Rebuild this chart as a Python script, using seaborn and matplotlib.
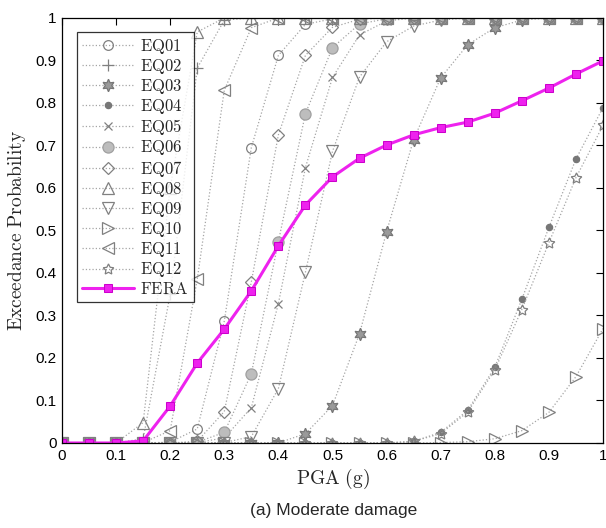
import numpy as np
import pandas as pd
import matplotlib
matplotlib.use("Agg")
import matplotlib.pyplot as plt
import seaborn as sns
from matplotlib.ticker import FixedLocator, FixedFormatter

pga = [round(0.05 * i, 2) for i in range(21)]

eq01 = [0, 0, 0, 0, 0.002, 0.033, 0.287, 0.695, 0.912, 0.985, 0.998, 1, 1, 1, 1, 1, 1, 1, 1, 1, 1]
eq02 = [0, 0, 0, 0.01, 0.35, 0.882, 0.995, 1, 1, 1, 1, 1, 1, 1, 1, 1, 1, 1, 1, 1, 1]
eq03 = [0, 0, 0, 0, 0, 0, 0, 0, 0, 0.022, 0.088, 0.257, 0.497, 0.714, 0.859, 0.937, 0.977, 0.995, 1, 1, 1]
eq04 = [0, 0, 0, 0, 0, 0, 0, 0, 0, 0, 0, 0, 0, 0.004, 0.025, 0.077, 0.178, 0.338, 0.507, 0.668, 0.789]
eq05 = [0, 0, 0, 0, 0, 0.001, 0.012, 0.083, 0.328, 0.648, 0.86, 0.96, 0.993, 1, 1, 1, 1, 1, 1, 1, 1]
eq06 = [0, 0, 0, 0, 0, 0.002, 0.025, 0.163, 0.474, 0.775, 0.93, 0.986, 0.998, 1, 1, 1, 1, 1, 1, 1, 1]
eq07 = [0, 0, 0, 0, 0, 0.004, 0.074, 0.379, 0.725, 0.912, 0.978, 0.997, 1, 1, 1, 1, 1, 1, 1, 1, 1]
eq08 = [0, 0, 0, 0.048, 0.6, 0.967, 1, 1, 1, 1, 1, 1, 1, 1, 1, 1, 1, 1, 1, 1, 1]
eq09 = [0, 0, 0, 0, 0, 0, 0.001, 0.015, 0.128, 0.402, 0.686, 0.861, 0.944, 0.981, 0.995, 1, 1, 1, 1, 1, 1]
eq10 = [0, 0, 0, 0, 0, 0, 0, 0, 0, 0, 0, 0, 0, 0, 0.001, 0.003, 0.01, 0.029, 0.072, 0.156, 0.269]
eq11 = [0, 0, 0, 0.001, 0.029, 0.385, 0.83, 0.977, 1, 1, 1, 1, 1, 1, 1, 1, 1, 1, 1, 1, 1]
eq12 = [0, 0, 0, 0, 0, 0, 0, 0, 0, 0, 0, 0, 0, 0.004, 0.022, 0.073, 0.172, 0.314, 0.471, 0.624, 0.747]
fera = [0, 0, 0, 0.005, 0.087, 0.188, 0.268, 0.358, 0.464, 0.56, 0.626, 0.67, 0.701, 0.725,
        0.742, 0.755, 0.776, 0.805, 0.835, 0.868, 0.899]

names = ["EQ01", "EQ02", "EQ03", "EQ04", "EQ05", "EQ06", "EQ07", "EQ08", "EQ09", "EQ10", "EQ11", "EQ12"]
series = [eq01, eq02, eq03, eq04, eq05, eq06, eq07, eq08, eq09, eq10, eq11, eq12]

xticks = [0, 0.1, 0.2, 0.3, 0.4, 0.5, 0.6, 0.7, 0.8, 0.9, 1]
xticklabels = ["0", "0.1", "0.2", "0.3", "0.4", "0.5", "0.6", "0.7", "0.8", "0.9", "1"]
yticks = xticks
yticklabels = xticklabels

sns.set_style("white")
plt.rcParams["mathtext.fontset"] = "cm"
plt.rcParams["font.family"] = ["Liberation Sans", "DejaVu Sans"]

edge = "#808080"
styles = {
    "EQ01": dict(marker="o", markersize=7, markerfacecolor="none", markeredgecolor=edge),
    "EQ02": dict(marker="+", markersize=9, markeredgecolor=edge),
    "EQ03": dict(marker=(6, 1, 0), markersize=9, markerfacecolor="#9a9a9a", markeredgecolor="#777777"),
    "EQ04": dict(marker="o", markersize=4.5, markerfacecolor="#777777", markeredgecolor="#777777"),
    "EQ05": dict(marker="x", markersize=5.5, markeredgecolor=edge),
    "EQ06": dict(marker="o", markersize=8, markerfacecolor="#bdbdbd", markeredgecolor="#a0a0a0"),
    "EQ07": dict(marker="D", markersize=6, markerfacecolor="none", markeredgecolor=edge),
    "EQ08": dict(marker="^", markersize=8, markerfacecolor="none", markeredgecolor=edge),
    "EQ09": dict(marker="v", markersize=8, markerfacecolor="none", markeredgecolor=edge),
    "EQ10": dict(marker=">", markersize=8, markerfacecolor="none", markeredgecolor=edge),
    "EQ11": dict(marker="<", markersize=8, markerfacecolor="none", markeredgecolor=edge),
    "EQ12": dict(marker=(5, 1, 0), markersize=8, markerfacecolor="none", markeredgecolor=edge),
}

fig = plt.figure(figsize=(6.06, 5.28), dpi=100)
ax = fig.add_axes([0.1023, 0.161, 0.8927, 0.805])

for name, vals in zip(names, series):
    df = pd.DataFrame({"PGA": pga, "P": vals})
    sns.lineplot(data=df, x="PGA", y="P", ax=ax, color="#a5a5a5", linestyle=":",
                 linewidth=0.9, markeredgewidth=0.9, label=r"$\mathrm{%s}$" % name,
                 **styles[name])

dff = pd.DataFrame({"PGA": pga, "P": fera})
sns.lineplot(data=dff, x="PGA", y="P", ax=ax, color="#ee22ee", linewidth=2.2,
             marker="s", markersize=6, markerfacecolor="#ee22ee", markeredgecolor="#cc00cc",
             label=r"$\mathrm{FERA}$")

ax.set_xlim(0, 1)
ax.set_ylim(0, 1)
ax.xaxis.set_major_locator(FixedLocator(xticks))
ax.xaxis.set_major_formatter(FixedFormatter(xticklabels))
ax.yaxis.set_major_locator(FixedLocator(yticks))
ax.yaxis.set_major_formatter(FixedFormatter(yticklabels))
ax.tick_params(direction="in", length=5, width=0.8, labelsize=11, top=True, right=True,
               colors="black", pad=4)
for sp in ax.spines.values():
    sp.set_visible(True)
    sp.set_color("black")
    sp.set_linewidth(0.9)

ax.set_xlabel(r"$\mathrm{PGA\ (g)}$", fontsize=14, labelpad=3)
ax.set_ylabel(r"$\mathrm{Exceedance\ Probability}$", fontsize=14, labelpad=5)

leg = ax.legend(loc="upper left", bbox_to_anchor=(0.028, 0.968), fontsize=12,
                frameon=True, fancybox=False, edgecolor="black", handlelength=3.1,
                handletextpad=0.4, labelspacing=0.07, borderpad=0.3, borderaxespad=0)
leg.get_frame().set_linewidth(0.9)

fig.text(0.55, 0.033, "(a) Moderate damage", ha="center", va="center", fontsize=12.5,
         family=["Liberation Sans", "DejaVu Sans"])

fig.savefig("out.png", dpi=100)
